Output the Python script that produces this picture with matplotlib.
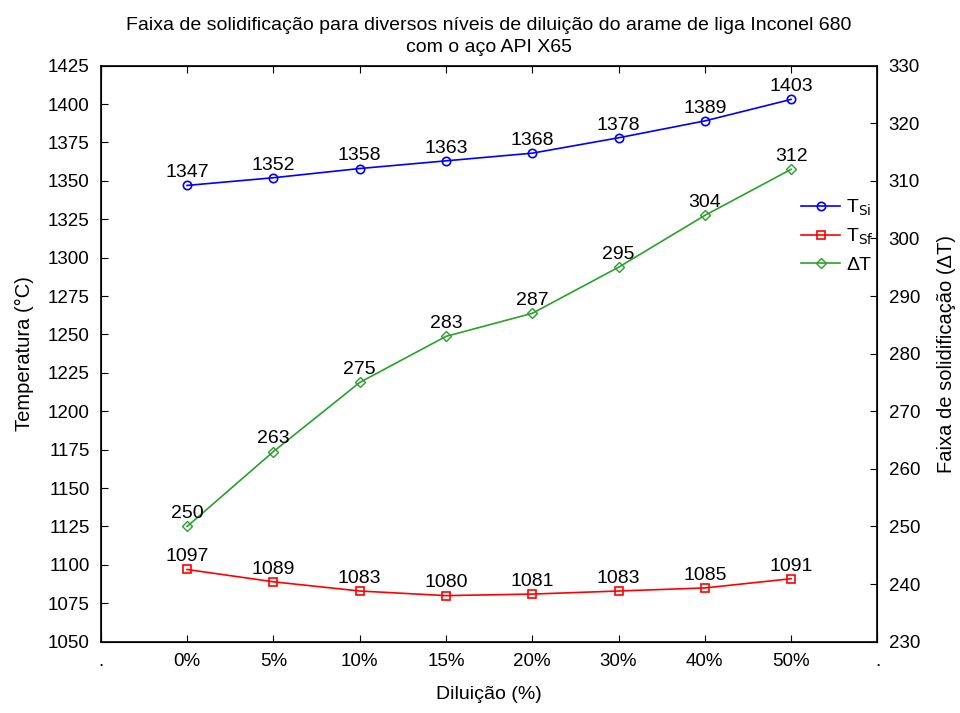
import matplotlib

matplotlib.use("Agg")

import matplotlib.pyplot as plt

plt.rcParams["font.family"] = ["Liberation Sans", "DejaVu Sans"]

diluicao = ["0%", "5%", "10%", "15%", "20%", "30%", "40%", "50%"]
t_si = [1347, 1352, 1358, 1363, 1368, 1378, 1389, 1403]
t_sf = [1097, 1089, 1083, 1080, 1081, 1083, 1085, 1091]
delta_t = [250, 263, 275, 283, 287, 295, 304, 312]

x = list(range(len(diluicao)))

fig = plt.figure(figsize=(9.6, 7.13), dpi=100)
ax = fig.add_axes([0.105, 0.10, 0.809, 0.808])
ax2 = ax.twinx()

l1, = ax.plot(x, t_si, color="#0000ff", lw=1.2, marker="o", ms=6,
              mfc="none", mew=1.2, label=r"T$_{\mathrm{Si}}$")
l2, = ax.plot(x, t_sf, color="#ff0000", lw=1.2, marker="s", ms=6,
              mfc="none", mew=1.2, label=r"T$_{\mathrm{Sf}}$")
l3, = ax2.plot(x, delta_t, color="#2ca02c", lw=1.2, marker="D", ms=5,
               mfc="none", mew=1.0, label="ΔT")

# value labels above each point
for axis, values in ((ax, t_si), (ax, t_sf), (ax2, delta_t)):
    for xi, v in zip(x, values):
        axis.annotate(str(v), (xi, v), xytext=(0, 3), textcoords="offset points",
                      ha="center", va="bottom", fontsize=14)

ax.set_xlim(-1, 8)
ax.set_xticks([-1] + x + [8])
ax.set_xticklabels(["."] + diluicao + ["."])
ax.set_ylim(1050, 1425)
ax.set_yticks(range(1050, 1426, 25))
ax2.set_ylim(230, 330)
ax2.set_yticks(range(230, 331, 10))

ax.tick_params(axis="both", direction="in", labelsize=13.5, length=5,
               top=True, pad=8)
ax2.tick_params(axis="y", direction="in", labelsize=13.5, length=5, pad=8)

ax.set_xlabel("Diluição (%)", fontsize=14, labelpad=12)
ax.set_ylabel("Temperatura (°C)", fontsize=14.5, labelpad=10)
ax2.set_ylabel("Faixa de solidificação (ΔT)", fontsize=14.5, labelpad=12)
ax.set_title("Faixa de solidificação para diversos níveis de diluição do arame de liga Inconel 680\n"
             "com o aço API X65", fontsize=14, pad=10, linespacing=1.35)

for spine in ax.spines.values():
    spine.set_linewidth(1.2)

ax2.legend(handles=[l1, l2, l3], loc="upper left", bbox_to_anchor=(0.902, 0.77),
           frameon=False, fontsize=14, handlelength=2.0, handletextpad=0.3,
           labelspacing=0.45, borderaxespad=0, borderpad=0)

fig.savefig("out.png", dpi=100)
plt.close(fig)
